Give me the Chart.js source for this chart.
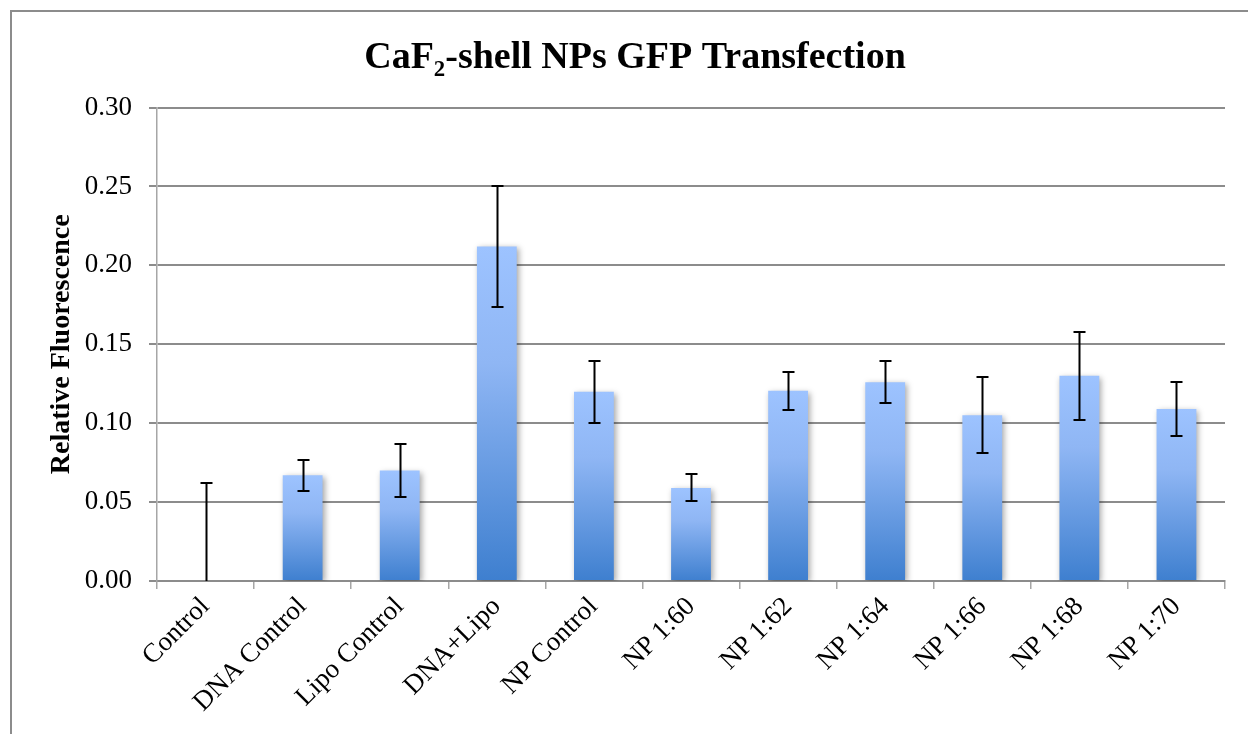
<!DOCTYPE html>
<html>
<head>
<meta charset="utf-8">
<script src="https://cdn.jsdelivr.net/npm/chart.js@4/dist/chart.umd.min.js"></script>
<style>
	html, body { margin: 0; padding: 0; background: #fff; overflow: hidden; }
	#wrap { position: relative; width: 1248px; height: 734px; }
	#frame { position: absolute; left: 10px; top: 10px; width: 1400px; height: 900px; border-top: 2px solid #8c8c8c; border-left: 2px solid #8c8c8c; }
	#chart { position: absolute; left: 0; top: 0; }
</style>
</head>
<body>
<div id="wrap">
	<div id="frame"></div>
	<canvas id="chart" width="1248" height="734"></canvas>
</div>
<script>
var categories = ['Control', 'DNA Control', 'Lipo Control', 'DNA+Lipo', 'NP Control', 'NP 1:60', 'NP 1:62', 'NP 1:64', 'NP 1:66', 'NP 1:68', 'NP 1:70'];
var fluorescence = [0, 0.067, 0.070, 0.212, 0.120, 0.059, 0.1205, 0.126, 0.105, 0.130, 0.109];
var errors = [0.062, 0.0098, 0.017, 0.0385, 0.0196, 0.0085, 0.012, 0.0134, 0.024, 0.028, 0.017];
var yTicks = [0, 0.05, 0.10, 0.15, 0.20, 0.25, 0.30];

var serif = '"Liberation Serif", "Times New Roman", serif';

// gradient per bar, light at the top, dark at the bottom
function barColor(context) {
	var chart = context.chart;
	if (!chart.chartArea || !chart.scales.y) return '#6a9ee8';
	var v = context.raw || 0;
	var top = chart.scales.y.getPixelForValue(v);
	var bottom = chart.scales.y.getPixelForValue(0);
	if (bottom - top < 1) return '#6a9ee8';
	var g = chart.ctx.createLinearGradient(0, top, 0, bottom);
	g.addColorStop(0, '#9dc3ff');
	g.addColorStop(0.35, '#8fb6f4');
	g.addColorStop(1, '#3e7fcf');
	return g;
}

var barShadow = {
	id: 'barShadow',
	beforeDatasetDraw: function(chart) {
		var ctx = chart.ctx;
		ctx.save();
		ctx.shadowColor = 'rgba(0,0,0,0.35)';
		ctx.shadowBlur = 6;
		ctx.shadowOffsetX = 2;
		ctx.shadowOffsetY = 2;
	},
	afterDatasetDraw: function(chart) {
		chart.ctx.restore();
	}
};

var errorBars = {
	id: 'errorBars',
	afterDatasetsDraw: function(chart) {
		var ctx = chart.ctx;
		var y = chart.scales.y;
		var meta = chart.getDatasetMeta(0);
		ctx.save();
		ctx.strokeStyle = '#000';
		ctx.lineWidth = 2;
		for (var i = 0; i < fluorescence.length; i++) {
			var x = Math.round(meta.data[i].x) + 0.5;
			var hi = fluorescence[i] + errors[i];
			var lo = fluorescence[i] - errors[i];
			var yHi = Math.round(y.getPixelForValue(hi));
			var yLo = Math.round(y.getPixelForValue(Math.max(lo, 0)));
			ctx.beginPath();
			ctx.moveTo(x, yHi);
			ctx.lineTo(x, yLo);
			ctx.moveTo(x - 6, yHi);
			ctx.lineTo(x + 6, yHi);
			if (lo >= 0) {
				ctx.moveTo(x - 6, yLo);
				ctx.lineTo(x + 6, yLo);
			}
			ctx.stroke();
		}
		ctx.restore();
	}
};

var ctx = document.getElementById('chart').getContext('2d');
var chart = new Chart(ctx, {
	type: 'bar',
	data: {
		labels: categories,
		datasets: [{
			label: 'Relative Fluorescence',
			data: fluorescence,
			backgroundColor: barColor,
			borderWidth: 0,
			barPercentage: 0.41,
			categoryPercentage: 1
		}]
	},
	options: {
		responsive: false,
		animation: false,
		layout: { padding: { left: 45, right: 23, top: 0, bottom: 0 } },
		plugins: {
			legend: { display: false },
			tooltip: { enabled: false },
			title: {
				display: true,
				text: 'CaF\u2082-shell NPs GFP Transfection',
				color: '#000',
				font: { family: serif, size: 38, weight: 'bold', lineHeight: 1.2 },
				padding: { top: 35, bottom: 27 }
			}
		},
		scales: {
			x: {
				grid: {
					offset: true,
					drawOnChartArea: false,
					drawTicks: true,
					tickLength: 8,
					color: '#a6a6a6',
					lineWidth: 1.5
				},
				border: { display: true, color: '#8c8c8c', width: 2 },
				ticks: {
					color: '#000',
					font: { family: serif, size: 27 },
					minRotation: 45,
					maxRotation: 45,
					padding: 2
				},
				afterFit: function(scale) { scale.height = 153; }
			},
			y: {
				min: 0,
				max: 0.30,
				afterBuildTicks: function(scale) {
					scale.ticks = yTicks.map(function(v) { return { value: v }; });
				},
				grid: {
					color: '#8c8c8c',
					lineWidth: 2,
					drawTicks: true,
					tickLength: 8
				},
				border: { display: true, color: '#a6a6a6', width: 1.5 },
				ticks: {
					color: '#000',
					font: { family: serif, size: 27 },
					padding: 17,
					callback: function(v) { return Number(v).toFixed(2); }
				},
				title: {
					display: true,
					text: 'Relative Fluorescence',
					color: '#000',
					font: { family: serif, size: 28, weight: 'bold', lineHeight: 1.2 },
					padding: { top: 0, bottom: 0 }
				},
				afterFit: function(scale) { scale.width = 112; }
			}
		}
	},
	plugins: [barShadow, errorBars]
});
</script>
</body>
</html>
